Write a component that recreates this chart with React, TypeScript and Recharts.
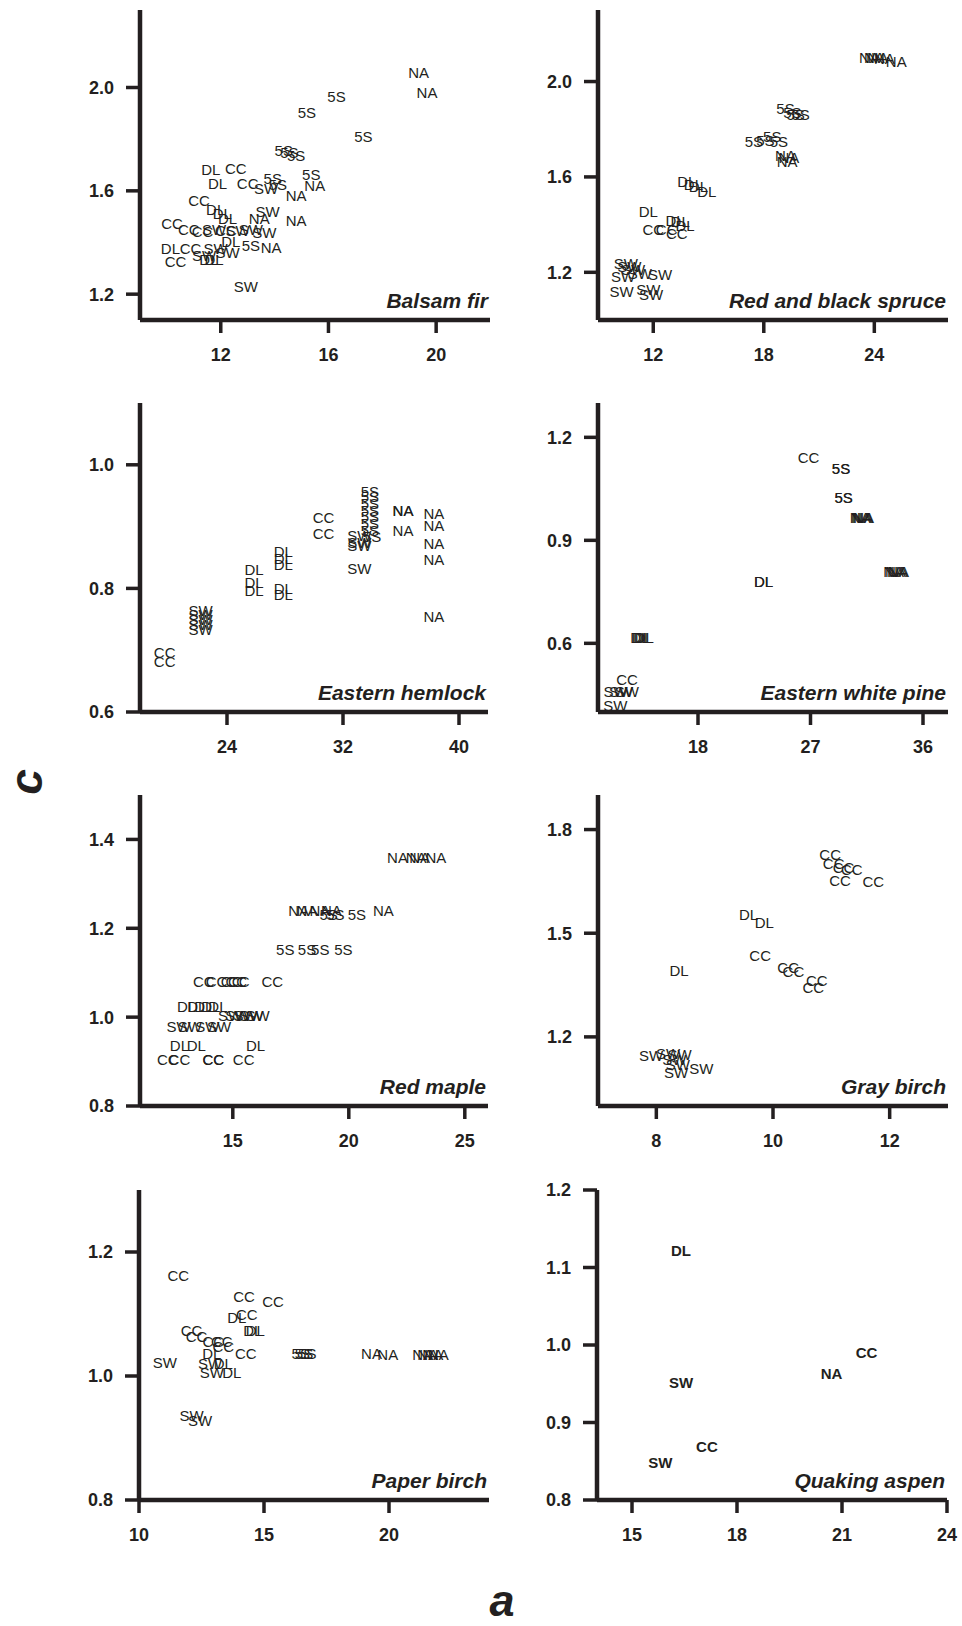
import { ScatterChart, Scatter, XAxis, YAxis } from 'recharts';

const FONT = '"Liberation Sans", Arial, Helvetica, sans-serif';
const INK = '#231f20';

// Balsam fir
const balsamSites = ['NA', 'NA', '5S', '5S', '5S', '5S', '5S', '5S', 'DL', 'CC', 'DL', 'CC', '5S', 'SW', '5S', '5S', 'NA', 'NA', 'CC', 'DL', 'DL', 'DL', 'SW', 'NA', 'NA', 'CC', 'CC', 'CC', 'SW', 'CC', 'SW', 'SW', 'SW', 'DL', '5S', 'NA', 'DL', 'CC', 'SW', 'SW', 'SW', 'DL', 'DL', 'CC', 'SW'];
const balsamA = [19.35, 19.66, 16.3, 15.2, 17.3, 14.34, 14.55, 14.8, 11.63, 12.56, 11.88, 13.0, 13.93, 13.68, 14.12, 15.36, 15.49, 14.8, 11.19, 11.81, 12.06, 12.25, 13.74, 13.43, 14.8, 10.19, 10.81, 11.32, 11.75, 12.19, 12.62, 13.12, 13.62, 12.37, 13.12, 13.87, 10.13, 10.88, 11.81, 12.25, 11.38, 11.56, 11.75, 10.32, 12.93];
const balsamC = [2.06, 1.98, 1.967, 1.903, 1.812, 1.756, 1.75, 1.737, 1.682, 1.685, 1.63, 1.627, 1.647, 1.608, 1.624, 1.663, 1.62, 1.582, 1.562, 1.526, 1.511, 1.491, 1.521, 1.491, 1.485, 1.472, 1.452, 1.443, 1.45, 1.447, 1.447, 1.45, 1.439, 1.404, 1.387, 1.381, 1.375, 1.375, 1.375, 1.362, 1.349, 1.336, 1.336, 1.325, 1.229];

// Red and black spruce
const spruceSites = ['NA', 'NA', 'NA', 'NA', 'NA', '5S', '5S', '5S', '5S', '5S', '5S', '5S', '5S', 'NA', 'NA', 'NA', 'DL', 'DL', 'DL', 'DL', 'DL', 'DL', 'DL', 'DL', 'CC', 'CC', 'CC', 'SW', 'SW', 'SW', 'SW', 'SW', 'SW', 'SW', 'SW', 'SW'];
const spruceA = [23.73, 24.0, 24.19, 24.55, 25.19, 19.18, 19.55, 19.73, 20.0, 17.46, 18.09, 18.46, 18.82, 19.18, 19.36, 19.27, 13.82, 14.18, 14.45, 14.91, 11.73, 13.18, 13.46, 13.73, 12.0, 12.73, 13.28, 10.51, 10.7, 10.91, 11.27, 12.37, 10.36, 10.28, 11.73, 11.88];
const spruceC = [2.101, 2.101, 2.1, 2.097, 2.084, 1.888, 1.87, 1.863, 1.863, 1.747, 1.754, 1.771, 1.747, 1.691, 1.68, 1.666, 1.579, 1.568, 1.56, 1.537, 1.453, 1.416, 1.411, 1.397, 1.381, 1.381, 1.364, 1.238, 1.225, 1.21, 1.195, 1.192, 1.182, 1.119, 1.13, 1.105];

// Eastern hemlock
const hemlockSites = ['CC', 'CC', 'SW', 'SW', 'SW', 'SW', 'SW', 'DL', 'DL', 'DL', 'DL', 'DL', 'DL', 'DL', 'DL', 'CC', 'CC', 'SW', 'SW', 'SW', 'SW', '5S', '5S', '5S', '5S', '5S', '5S', '5S', '5S', 'NA', 'NA', 'NA', 'NA', 'NA', 'NA', 'NA', 'NA'];
const hemlockA = [19.7, 19.7, 22.17, 22.17, 22.17, 22.17, 22.17, 25.87, 25.87, 25.87, 27.88, 27.88, 27.88, 27.88, 27.88, 30.66, 30.66, 33.13, 33.13, 33.13, 33.13, 33.86, 33.86, 33.86, 33.86, 33.86, 33.86, 33.86, 34.0, 36.14, 36.14, 36.14, 38.27, 38.27, 38.27, 38.27, 38.27];
const hemlockC = [0.697, 0.681, 0.765, 0.758, 0.75, 0.742, 0.733, 0.83, 0.809, 0.796, 0.86, 0.849, 0.838, 0.8, 0.79, 0.914, 0.889, 0.886, 0.874, 0.869, 0.833, 0.957, 0.948, 0.937, 0.926, 0.916, 0.905, 0.894, 0.884, 0.926, 0.926, 0.894, 0.921, 0.901, 0.873, 0.846, 0.755];

// Eastern white pine
const pineSites = ['CC', '5S', '5S', '5S', '5S', 'NA', 'NA', 'NA', 'NA', 'NA', 'NA', 'NA', 'NA', 'DL', 'DL', 'DL', 'DL', 'DL', 'DL', 'CC', 'SW', 'SW', 'SW', 'SW'];
const pineA = [26.85, 29.44, 29.44, 29.65, 29.65, 30.98, 31.08, 31.18, 31.25, 33.65, 33.8, 33.95, 34.05, 23.25, 23.25, 13.34, 13.46, 13.58, 13.7, 12.32, 11.4, 11.85, 12.3, 11.38];
const pineC = [1.14, 1.108, 1.108, 1.026, 1.026, 0.967, 0.967, 0.967, 0.967, 0.81, 0.81, 0.81, 0.81, 0.781, 0.781, 0.616, 0.616, 0.616, 0.616, 0.496, 0.46, 0.46, 0.46, 0.418];

// Red maple
const mapleSites = ['NA', 'NA', 'NA', 'NA', 'NA', 'NA', 'NA', 'NA', 'NA', '5S', '5S', '5S', '5S', '5S', '5S', '5S', 'CC', 'CC', 'CC', 'CC', 'CC', 'CC', 'DL', 'DL', 'DL', 'DL', 'DL', 'SW', 'SW', 'SW', 'SW', 'SW', 'SW', 'SW', 'SW', 'SW', 'DL', 'DL', 'DL', 'CC', 'CC', 'CC', 'CC', 'CC'];
const mapleA = [22.1, 22.9, 23.05, 23.75, 17.84, 18.2, 18.75, 19.25, 21.49, 19.13, 19.42, 20.35, 17.26, 18.2, 18.77, 19.77, 13.75, 14.3, 14.95, 15.15, 15.26, 16.7, 13.01, 13.45, 13.75, 14.05, 14.36, 14.88, 15.2, 15.55, 15.8, 16.07, 12.66, 13.15, 13.9, 14.41, 12.7, 13.43, 15.98, 12.2, 12.7, 14.16, 14.16, 15.47];
const mapleC = [1.36, 1.36, 1.36, 1.36, 1.24, 1.24, 1.24, 1.24, 1.24, 1.23, 1.23, 1.23, 1.153, 1.153, 1.153, 1.153, 1.081, 1.081, 1.081, 1.081, 1.081, 1.081, 1.024, 1.024, 1.024, 1.024, 1.024, 1.003, 1.003, 1.003, 1.003, 1.003, 0.979, 0.979, 0.979, 0.979, 0.937, 0.937, 0.937, 0.905, 0.905, 0.905, 0.905, 0.905];

// Gray birch
const graySites = ['CC', 'CC', 'CC', 'CC', 'CC', 'CC', 'DL', 'DL', 'CC', 'DL', 'CC', 'CC', 'CC', 'CC', 'SW', 'SW', 'SW', 'SW', 'SW', 'SW', 'SW'];
const grayA = [10.98, 11.04, 11.21, 11.35, 11.15, 11.72, 9.58, 9.85, 9.78, 8.39, 10.26, 10.35, 10.75, 10.69, 7.91, 8.2, 8.4, 8.31, 8.37, 8.77, 8.34];
const grayC = [1.727, 1.701, 1.689, 1.685, 1.653, 1.651, 1.554, 1.53, 1.435, 1.393, 1.401, 1.389, 1.362, 1.343, 1.147, 1.152, 1.15, 1.135, 1.12, 1.108, 1.096];

// Paper birch
const paperSites = ['CC', 'CC', 'CC', 'DL', 'CC', 'DL', 'DL', 'CC', 'CC', 'CC', 'CC', 'CC', 'DL', 'CC', 'SW', 'SW', 'DL', 'SW', 'DL', '5S', '5S', '5S', 'NA', 'NA', 'NA', 'NA', 'NA', 'NA', 'SW', 'SW'];
const paperA = [11.57, 14.2, 15.36, 13.91, 14.31, 14.55, 14.65, 12.1, 12.3, 12.97, 13.31, 13.37, 12.91, 14.27, 11.03, 12.84, 13.37, 12.91, 13.71, 16.47, 16.6, 16.73, 19.3, 19.95, 21.35, 21.55, 21.75, 21.97, 12.1, 12.44];
const paperC = [1.162, 1.129, 1.12, 1.094, 1.1, 1.073, 1.073, 1.073, 1.063, 1.055, 1.055, 1.047, 1.037, 1.037, 1.021, 1.02, 1.02, 1.006, 1.006, 1.037, 1.037, 1.037, 1.036, 1.035, 1.034, 1.034, 1.034, 1.034, 0.937, 0.929];

// Quaking aspen
const aspenSites = ['DL', 'CC', 'NA', 'SW', 'CC', 'SW'];
const aspenA = [16.4, 21.7, 20.7, 16.4, 17.14, 15.81];
const aspenC = [1.122, 0.99, 0.963, 0.952, 0.869, 0.848];

interface PanelDef {
  name: string;
  sites: string[];
  a: number[];
  c: number[];
  aDomain: [number, number];
  cDomain: [number, number];
  aTicks: number[];
  cTicks: number[];
  box: { left: number; top: number; right: number; bottom: number };
  labelWeight: string;
}

const PANELS: PanelDef[] = [
  { name: 'Balsam fir', sites: balsamSites, a: balsamA, c: balsamC, aDomain: [9, 22], cDomain: [1.1, 2.3], aTicks: [12, 16, 20], cTicks: [1.2, 1.6, 2.0], box: { left: 140, top: 10, right: 490, bottom: 320 }, labelWeight: 'normal' },
  { name: 'Red and black spruce', sites: spruceSites, a: spruceA, c: spruceC, aDomain: [9, 28], cDomain: [1.0, 2.3], aTicks: [12, 18, 24], cTicks: [1.2, 1.6, 2.0], box: { left: 598, top: 10, right: 948, bottom: 320 }, labelWeight: 'normal' },
  { name: 'Eastern hemlock', sites: hemlockSites, a: hemlockA, c: hemlockC, aDomain: [18, 42], cDomain: [0.6, 1.1], aTicks: [24, 32, 40], cTicks: [0.6, 0.8, 1.0], box: { left: 140, top: 403, right: 488, bottom: 712 }, labelWeight: 'normal' },
  { name: 'Eastern white pine', sites: pineSites, a: pineA, c: pineC, aDomain: [10, 38], cDomain: [0.4, 1.3], aTicks: [18, 27, 36], cTicks: [0.6, 0.9, 1.2], box: { left: 598, top: 403, right: 948, bottom: 712 }, labelWeight: 'normal' },
  { name: 'Red maple', sites: mapleSites, a: mapleA, c: mapleC, aDomain: [11, 26], cDomain: [0.8, 1.5], aTicks: [15, 20, 25], cTicks: [0.8, 1.0, 1.2, 1.4], box: { left: 140, top: 795, right: 488, bottom: 1106 }, labelWeight: 'normal' },
  { name: 'Gray birch', sites: graySites, a: grayA, c: grayC, aDomain: [7, 13], cDomain: [1.0, 1.9], aTicks: [8, 10, 12], cTicks: [1.2, 1.5, 1.8], box: { left: 598, top: 795, right: 948, bottom: 1106 }, labelWeight: 'normal' },
  { name: 'Paper birch', sites: paperSites, a: paperA, c: paperC, aDomain: [10, 24], cDomain: [0.8, 1.3], aTicks: [10, 15, 20], cTicks: [0.8, 1.0, 1.2], box: { left: 139, top: 1190, right: 489, bottom: 1500 }, labelWeight: 'normal' },
  { name: 'Quaking aspen', sites: aspenSites, a: aspenA, c: aspenC, aDomain: [14, 24], cDomain: [0.8, 1.2], aTicks: [15, 18, 21, 24], cTicks: [0.8, 0.9, 1.0, 1.1, 1.2], box: { left: 597, top: 1190, right: 947, bottom: 1500 }, labelWeight: 'bold' },
];

const Y_W = 80;
const X_H = 50;
const M_TOP = 10;
const M_RIGHT = 12;

const tickStyle = { fill: INK, fontSize: 18, fontWeight: 'bold', fontFamily: FONT };

function Panel({ p }: { p: PanelDef }) {
  const { left, top, right, bottom } = p.box;
  const width = right - left + Y_W + M_RIGHT;
  const height = bottom - top + M_TOP + X_H;
  const data = p.sites.map((s, i) => ({ site: s, a: p.a[i], c: p.c[i] }));

  const renderLabel = (props: any) => (
    <text
      x={props.cx}
      y={props.cy}
      textAnchor="middle"
      dominantBaseline="central"
      fontSize={15}
      fontFamily={FONT}
      fontWeight={p.labelWeight}
      fill={INK}
    >
      {props.payload.site}
    </text>
  );

  return (
    <div style={{ position: 'absolute', left: left - Y_W, top: top - M_TOP }}>
      <ScatterChart width={width} height={height} margin={{ top: M_TOP, right: M_RIGHT, bottom: 0, left: 0 }}>
        <XAxis
          type="number"
          dataKey="a"
          domain={p.aDomain}
          ticks={p.aTicks}
          interval={0}
          height={X_H}
          tickSize={13}
          tickMargin={15}
          axisLine={{ stroke: INK, strokeWidth: 4.5 }}
          tickLine={{ stroke: INK, strokeWidth: 3.5 }}
          tick={tickStyle}
        />
        <YAxis
          type="number"
          dataKey="c"
          domain={p.cDomain}
          ticks={p.cTicks}
          interval={0}
          width={Y_W}
          tickSize={14}
          tickMargin={12}
          tickFormatter={(v: number) => v.toFixed(1)}
          axisLine={{ stroke: INK, strokeWidth: 4.5 }}
          tickLine={{ stroke: INK, strokeWidth: 3.5 }}
          tick={tickStyle}
        />
        <Scatter data={data} isAnimationActive={false} shape={renderLabel} />
      </ScatterChart>
    </div>
  );
}

export default function App() {
  return (
    <div style={{ position: 'absolute', left: 0, top: 0, width: 962, height: 1626, background: '#fff', fontFamily: FONT }}>
      {PANELS.map((p) => (
        <Panel key={p.name} p={p} />
      ))}
      <svg width={962} height={1626} style={{ position: 'absolute', left: 0, top: 0, pointerEvents: 'none' }}>
        {PANELS.map((p) => (
          <text
            key={p.name}
            x={p.box.right - 2}
            y={p.box.bottom - 12}
            textAnchor="end"
            fontSize={21}
            fontWeight="bold"
            fontStyle="italic"
            fontFamily={FONT}
            fill={INK}
          >
            {p.name}
          </text>
        ))}
        <text
          transform="translate(42,782) rotate(-90)"
          textAnchor="middle"
          fontSize={46}
          fontWeight="bold"
          fontStyle="italic"
          fontFamily={FONT}
          fill={INK}
        >
          c
        </text>
        <text x={502} y={1616} textAnchor="middle" fontSize={45} fontWeight="bold" fontStyle="italic" fontFamily={FONT} fill={INK}>
          a
        </text>
      </svg>
    </div>
  );
}
